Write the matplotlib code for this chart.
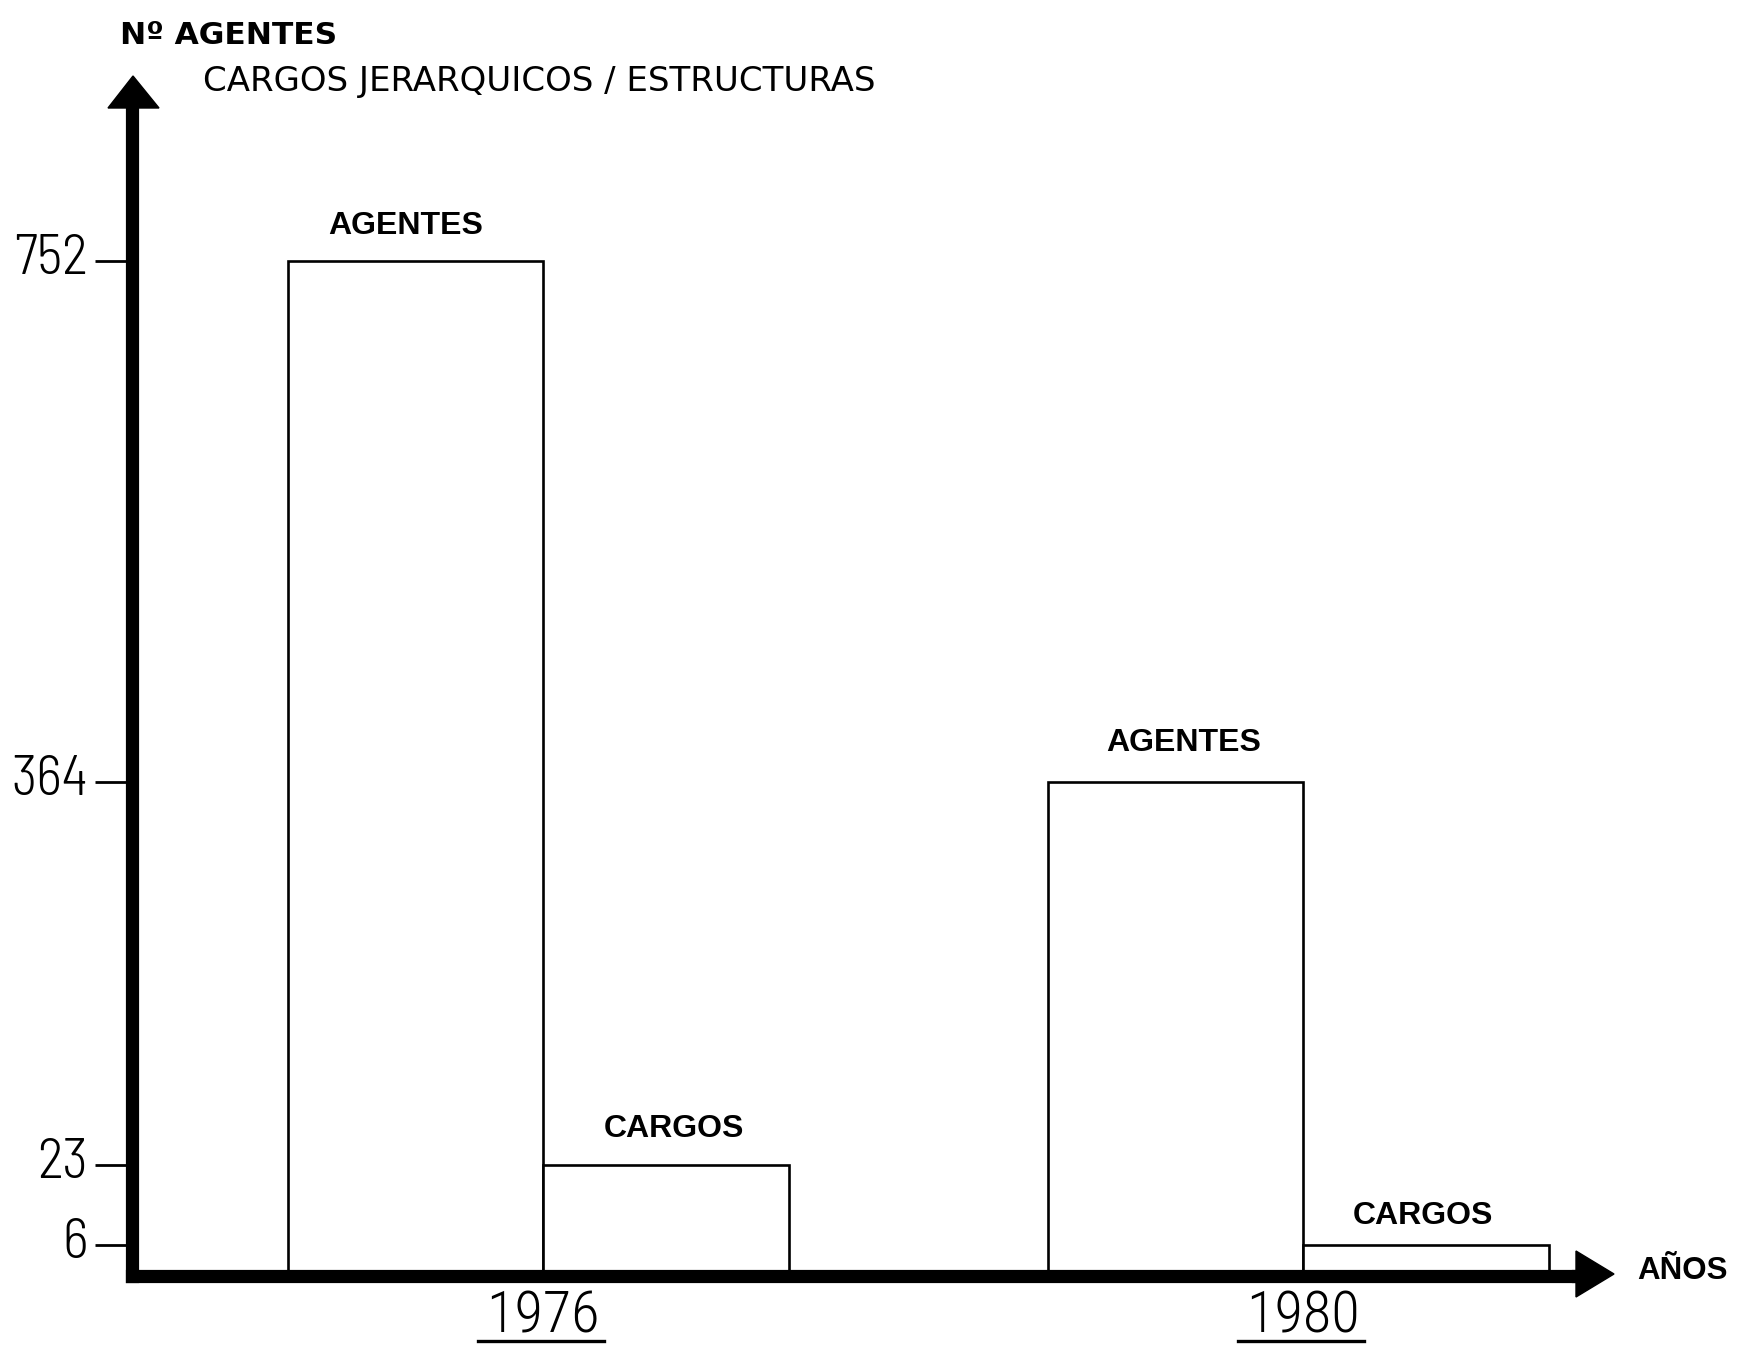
import numpy as np
import matplotlib
matplotlib.use("Agg")
import matplotlib.pyplot as plt
from matplotlib.patches import Polygon
from matplotlib.lines import Line2D
from matplotlib.transforms import ScaledTranslation

# ---- data ----
years = ["1976", "1980"]
agentes = [752, 364]
cargos = [23, 6]
tick_values = [6, 23, 364, 752]

# ---- fonts ----
DIGITS = "Barlow Semi Condensed"
YEARS = "Roboto Condensed"
TITLE = "DejaVu Sans"
BOLD = "Liberation Sans"

W, H = 1748, 1345
fig = plt.figure(figsize=(W / 100, H / 100), dpi=100)
fig.patch.set_facecolor("white")

# axes frame in pixels
ax_l, ax_r, ax_b, ax_t = 132, 1580, 1276, 106
ax = fig.add_axes([ax_l / W, 1 - ax_b / H, (ax_r - ax_l) / W, (ax_b - ax_t) / H])
ax.set_facecolor("none")

# hand-drawn, non-uniform vertical scale: value knots -> height in px
knot_v = np.array([0, 6, 23, 364, 752, 867], dtype=float)
knot_p = np.array([0, 31, 111, 494, 1015, 1170], dtype=float)
def fwd(v):
    return np.interp(v, knot_v, knot_p)
def inv(p):
    return np.interp(p, knot_p, knot_v)
ax.set_yscale("function", functions=(fwd, inv))
ax.set_ylim(0, 867)

unit = 760.0
c0 = 411.0
ax.set_xlim(-c0 / unit, ((ax_r - ax_l) - c0) / unit)

x = np.arange(len(years))
wa = 255 / unit
wc = 246 / unit
bar_kw = dict(facecolor="white", edgecolor="black", linewidth=1.9, zorder=2)
ax.bar(x - wa / 2, agentes, width=wa, **bar_kw)
ax.bar(x + wc / 2, cargos, width=wc, **bar_kw)

lab_kw = dict(textcoords="offset points", ha="center", va="center",
              fontsize=23, fontweight="bold", family=BOLD)
for xi, v, dx, dy in zip(x, agentes, [-7, 6], [25, 28]):
    ax.annotate("AGENTES", (xi - wa / 2, v), xytext=(dx, dy), **lab_kw)
for xi, v, dx, dy in zip(x, cargos, [6, -2], [26, 21]):
    ax.annotate("CARGOS", (xi + wc / 2, v), xytext=(dx, dy), **lab_kw)

# spines
for s in ["top", "right"]:
    ax.spines[s].set_visible(False)
for s in ["left", "bottom"]:
    ax.spines[s].set_linewidth(9.5)
    ax.spines[s].set_capstyle("projecting")
    ax.spines[s].set_zorder(3)

ax.set_yticks(tick_values, [str(v) for v in tick_values])
ax.tick_params(axis="y", length=27, width=2.0, pad=5, labelsize=40, direction="out")
for t in ax.get_yticklabels():
    t.set_family(DIGITS)
    t.set_fontweight(300)

ax.set_xticks(x, years)
ax.tick_params(axis="x", length=0, pad=10, labelsize=42)
for t in ax.get_xticklabels():
    t.set_family(YEARS)
    t.set_fontweight(300)

# arrowheads
def px(xp, yp):
    return (xp / W, 1 - yp / H)
fig.add_artist(Polygon([px(133, 76), px(108, 108), px(159, 108)], closed=True,
                       facecolor="black", edgecolor="black", transform=fig.transFigure))
fig.add_artist(Polygon([px(1614, 1274), px(1576, 1251), px(1576, 1297)], closed=True,
                       facecolor="black", edgecolor="black", transform=fig.transFigure))
fig.add_artist(Line2D([ax_r / W, 1578 / W], [1 - ax_b / H] * 2, lw=9.5, color="black",
                      transform=fig.transFigure))

# titles
fig.text(120 / W, 1 - 36 / H, "Nº AGENTES", fontsize=22.5, fontweight="bold",
         family=TITLE, va="center", ha="left")
fig.text(203 / W, 1 - 81 / H, "CARGOS JERARQUICOS / ESTRUCTURAS", fontsize=24.5,
         family=TITLE, va="center", ha="left")
fig.text(1682 / W, 1 - 1271 / H, "AÑOS", fontsize=22.5, fontweight="bold",
         family=BOLD, va="center", ha="center")

fig.canvas.draw()
r = fig.canvas.get_renderer()

# lettered values sit a little above their ticks
lift = ScaledTranslation(0, 7 / 100, fig.dpi_scale_trans)
for t in ax.get_yticklabels():
    t.set_transform(t.get_transform() + lift)

# underline the year labels
for t in ax.get_xticklabels():
    bb = t.get_window_extent(r)
    yline = H - 1341
    fig.add_artist(Line2D([(bb.x0 - 8) / W, (bb.x1 + 4) / W], [yline / H, yline / H],
                          lw=2.4, color="black", transform=fig.transFigure))

fig.savefig("out.png", dpi=100, facecolor="white")
